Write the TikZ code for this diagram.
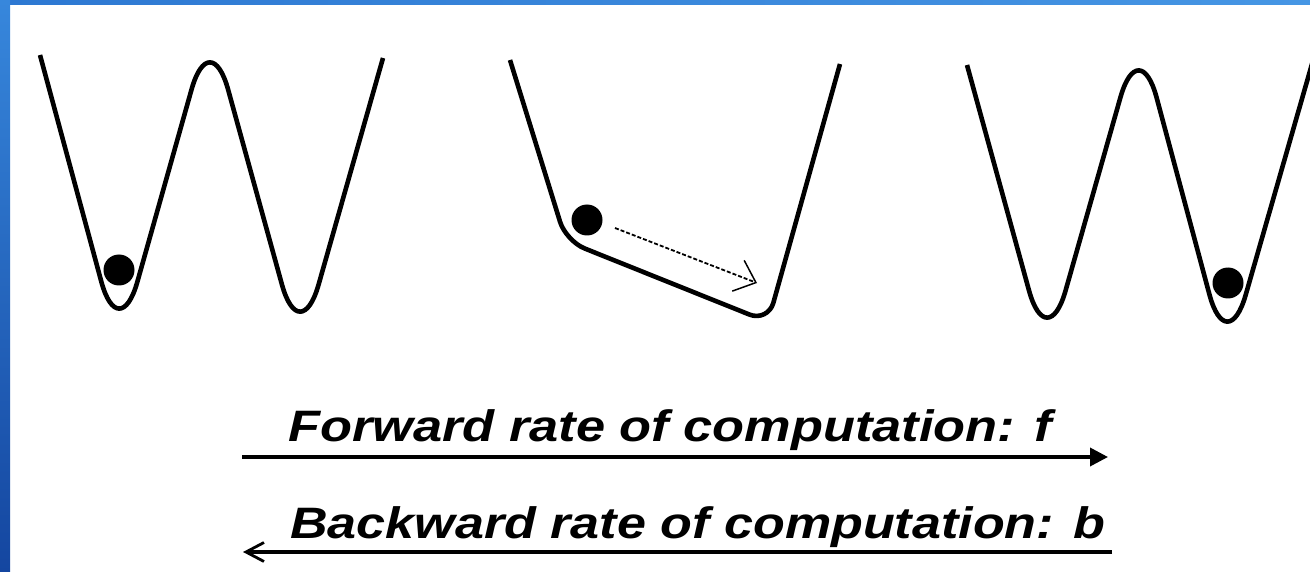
\documentclass[tikz,border=0pt]{standalone}
\usepackage{fontspec}
\usepackage{graphicx}
\usetikzlibrary{arrows.meta}
\newfontfamily\labfont{Liberation Sans}
\definecolor{topL}{RGB}{45,120,210}
\definecolor{topM}{RGB}{110,190,248}
\definecolor{topR}{RGB}{70,150,228}
\definecolor{sideT}{RGB}{55,135,220}
\definecolor{sideB}{RGB}{20,70,160}
\tikzset{
  well/.style={line width=4.6pt, line join=round},
  ball/.style={circle, fill=black, minimum size=31pt, inner sep=0pt},
  lab/.style={inner sep=0pt, anchor=base west, font=\labfont\bfseries\itshape\fontsize{44}{50}\selectfont},
  rateline/.style={line width=3.6pt}
}
\begin{document}
\begin{tikzpicture}[x=1pt,y=-1pt]
\useasboundingbox (0,0) rectangle (1310,572);
\fill[white] (0,0) rectangle (1310,572);
\shade[left color=topL, middle color=topM, right color=topR] (0,0) rectangle (1310,5);
\shade[top color=sideT, bottom color=sideB] (0,0) rectangle (10,572);

% left double well
\draw[well, rounded corners=68pt] (40,55) -- (119,347) -- (210,24) -- (300,350) -- (383,58);
\node[ball] (ballA) at (119,270) {};

% middle tilted well
\draw[well] (510,60) [rounded corners=20pt] -- (566,241) -- (768,322) -- (840,64);
\node[ball] (ballB) at (587,220) {};
\coordinate (d0) at (615,228);
\coordinate (d1) at (757,283);
\draw[line width=1.8pt, dash pattern=on 4pt off 2pt,
      -{Straight Barb[length=19pt,width=33pt,line width=1.5pt]}] (d0) -- (d1);

% right double well
\begin{scope}
\clip (0,0) rectangle (1310,572);
\draw[well, rounded corners=68pt] (967,65) -- (1047,356) -- (1139,32) -- (1227,360) -- (1316,50);
\end{scope}
\node[ball] (ballC) at (1228,283) {};

% labels and arrows
\node[lab] (fwd) at (288,441) {\resizebox{764pt}{\height}{Forward rate of computation: f}};
\node[lab] (bwd) at (290,538) {\resizebox{815pt}{\height}{Backward rate of computation: b}};
\coordinate (f0) at (242,457);
\coordinate (f1) at (1108,457);
\draw[rateline, -{Triangle[length=18pt,width=18pt]}] (f0) -- (f1);
\coordinate (b0) at (1112,552);
\coordinate (b1) at (243,552);
\draw[rateline, -{Straight Barb[length=18pt,width=19pt,line width=2.8pt]}] (b0) -- (b1);
\end{tikzpicture}
\end{document}
